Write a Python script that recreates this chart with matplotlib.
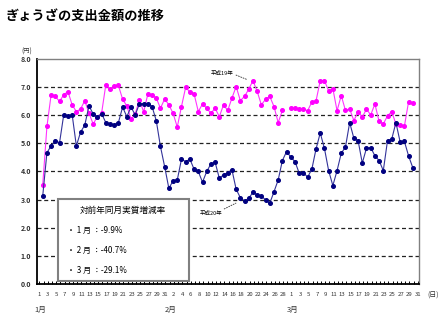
import numpy as np
import matplotlib.pyplot as plt
from matplotlib.patches import Rectangle
from matplotlib.transforms import blended_transform_factory

plt.rcParams['font.family'] = ['Noto Sans CJK JP', 'DejaVu Sans']

months = ['1月', '2月', '3月']
month_days = [31, 29, 31]

# 平成20年 (2008)
h20_jan = [3.13, 4.67, 4.91, 5.10, 5.02, 6.02, 5.97, 6.02, 4.91, 5.40, 5.65, 6.33, 6.05, 5.93, 6.06,
           5.74, 5.69, 5.66, 5.74, 6.29, 5.95, 6.29, 6.01, 6.41, 6.41, 6.41, 6.31, 5.81, 4.89, 4.17, 3.40]
h20_feb = [3.67, 3.70, 4.44, 4.35, 4.44, 4.08, 4.00, 3.62, 4.00, 4.27, 4.33, 3.76, 3.88, 3.96, 4.06,
           3.37, 3.07, 2.95, 3.05, 3.26, 3.17, 3.13, 2.99, 2.87, 3.28, 3.70, 4.39, 4.71, 4.51]
h20_mar = [4.35, 3.94, 3.96, 3.80, 4.08, 4.80, 5.37, 4.82, 4.03, 3.50, 4.03, 4.65, 4.87, 5.74, 5.18,
           5.10, 4.30, 4.83, 4.85, 4.56, 4.39, 4.03, 5.10, 5.15, 5.74, 5.05, 5.08, 4.56, 4.14]

# 平成19年 (2007)
h19_jan = [3.52, 5.60, 6.73, 6.67, 6.49, 6.73, 6.84, 6.37, 6.13, 6.22, 6.52, 6.07, 5.69, 5.95, 6.07,
           7.08, 6.93, 7.05, 7.06, 6.57, 6.33, 5.87, 6.05, 6.55, 6.12, 6.75, 6.73, 6.61, 6.25, 6.58, 6.37]
h19_feb = [6.07, 5.58, 6.31, 7.00, 6.82, 6.76, 6.13, 6.40, 6.25, 6.07, 6.25, 5.95, 6.37, 6.17, 6.61,
           7.02, 6.52, 6.67, 6.93, 7.23, 6.85, 6.37, 6.57, 6.67, 6.31, 5.74, 6.17, None, 6.25]
h19_mar = [6.25, 6.23, 6.22, 6.16, 6.47, 6.51, 7.23, 7.23, 6.87, 6.95, 6.16, 6.70, 6.17, 6.22, 5.81,
           6.13, 5.93, 6.22, 6.01, 6.40, 5.78, 5.69, 5.98, 6.13, 5.69, 5.66, 5.60, 6.47, 6.44]

rates = ['1 月 ：-9.9%', '2 月 ：-40.7%', '3 月 ：-29.1%']

h20 = np.array(h20_jan + h20_feb + h20_mar, dtype=float)
h19 = np.array(h19_jan + h19_feb + h19_mar, dtype=float)
x = np.arange(len(h20))

days = [d for m in month_days for d in range(1, m + 1)]
slots = np.arange(len(days))
month_start = np.cumsum([0] + month_days[:-1])
lab_shift = -0.8  # labels sit a little left of the points

fig = plt.figure(figsize=(4.48, 3.23), dpi=100)
ax = fig.add_axes([37 / 448, 39 / 323, 382.3 / 448, 225 / 323])

for v in range(1, 8):
    ax.axhline(v, color='#222222', lw=0.9, dashes=(3.2, 2.2), zorder=1)

ax.plot(x, h19, color='#ff33ff', lw=0.8, marker='o', ms=2.6, mfc='#ff00ff', mec='#ff00ff', zorder=4)
ax.plot(x, h20, color='#33339a', lw=0.8, marker='o', ms=2.6, mfc='#000080', mec='#000080', zorder=4)

ax.set_xlim(-1.36, 89.56)
ax.set_ylim(0, 8)
ax.set_xticks(slots + lab_shift)
ax.set_xticklabels([str(d) if i % 2 == 0 else '' for i, d in enumerate(days)],
                   fontsize=4.3, color='#333333')
ax.tick_params(axis='x', direction='in', length=2.5, width=0.7, pad=6)
ax.set_yticks(range(9))
ax.set_yticklabels(['%.1f' % v for v in range(9)], fontsize=5, fontweight='bold', color='#333333')
ax.tick_params(axis='y', length=0, pad=4)

for s in ['left', 'bottom']:
    ax.spines[s].set_color('black')
    ax.spines[s].set_linewidth(1.3)
for s in ['top', 'right']:
    ax.spines[s].set_color('#808080')
    ax.spines[s].set_linewidth(1.0)

tr = blended_transform_factory(ax.transData, ax.transAxes)
for m, st in zip(months, month_start):
    ax.text(st - 0.5, -0.115, m, transform=tr, fontsize=5.5, ha='center', va='center', color='#333333')
ax.text(1.036, -0.053, '(日)', transform=ax.transAxes, fontsize=5, ha='center', va='center',
        color='#333333', clip_on=False)
ax.text(-0.027, 1.032, '(円)', transform=ax.transAxes, fontsize=4.5, ha='center', va='center',
        color='#333333')

fig.text(6 / 448, 1 - 16 / 323, 'ぎょうざの支出金額の推移', fontsize=9.5, fontweight='bold',
         ha='left', va='center')

# rate box
ax.add_patch(Rectangle((0.055, 0.013), 0.343, 0.365, transform=ax.transAxes,
                       facecolor='white', edgecolor='#808080', lw=1.5, zorder=3))
ax.text(0.225, 0.326, '対前年同月実質増減率', transform=ax.transAxes, fontsize=6.2,
        ha='center', va='center', zorder=5)
for k, r in enumerate(rates):
    ax.text(0.078, 0.236 - k * 0.087, '・ ' + r, transform=ax.transAxes, fontsize=5.8,
            ha='left', va='center', zorder=5)

# series notes
ax.text(0.484, 0.938, '平成19年', transform=ax.transAxes, fontsize=4, ha='center', va='center')
ax.plot([0.52, 0.549], [0.929, 0.909], transform=ax.transAxes, color='#333333', lw=0.6,
        ls=(0, (2, 1)))
ax.text(0.455, 0.316, '平成20年', transform=ax.transAxes, fontsize=4, ha='center', va='center')
ax.plot([0.489, 0.521], [0.333, 0.36], transform=ax.transAxes, color='#333333', lw=0.6,
        ls=(0, (2, 1)))

fig.savefig('out.png', dpi=100)
